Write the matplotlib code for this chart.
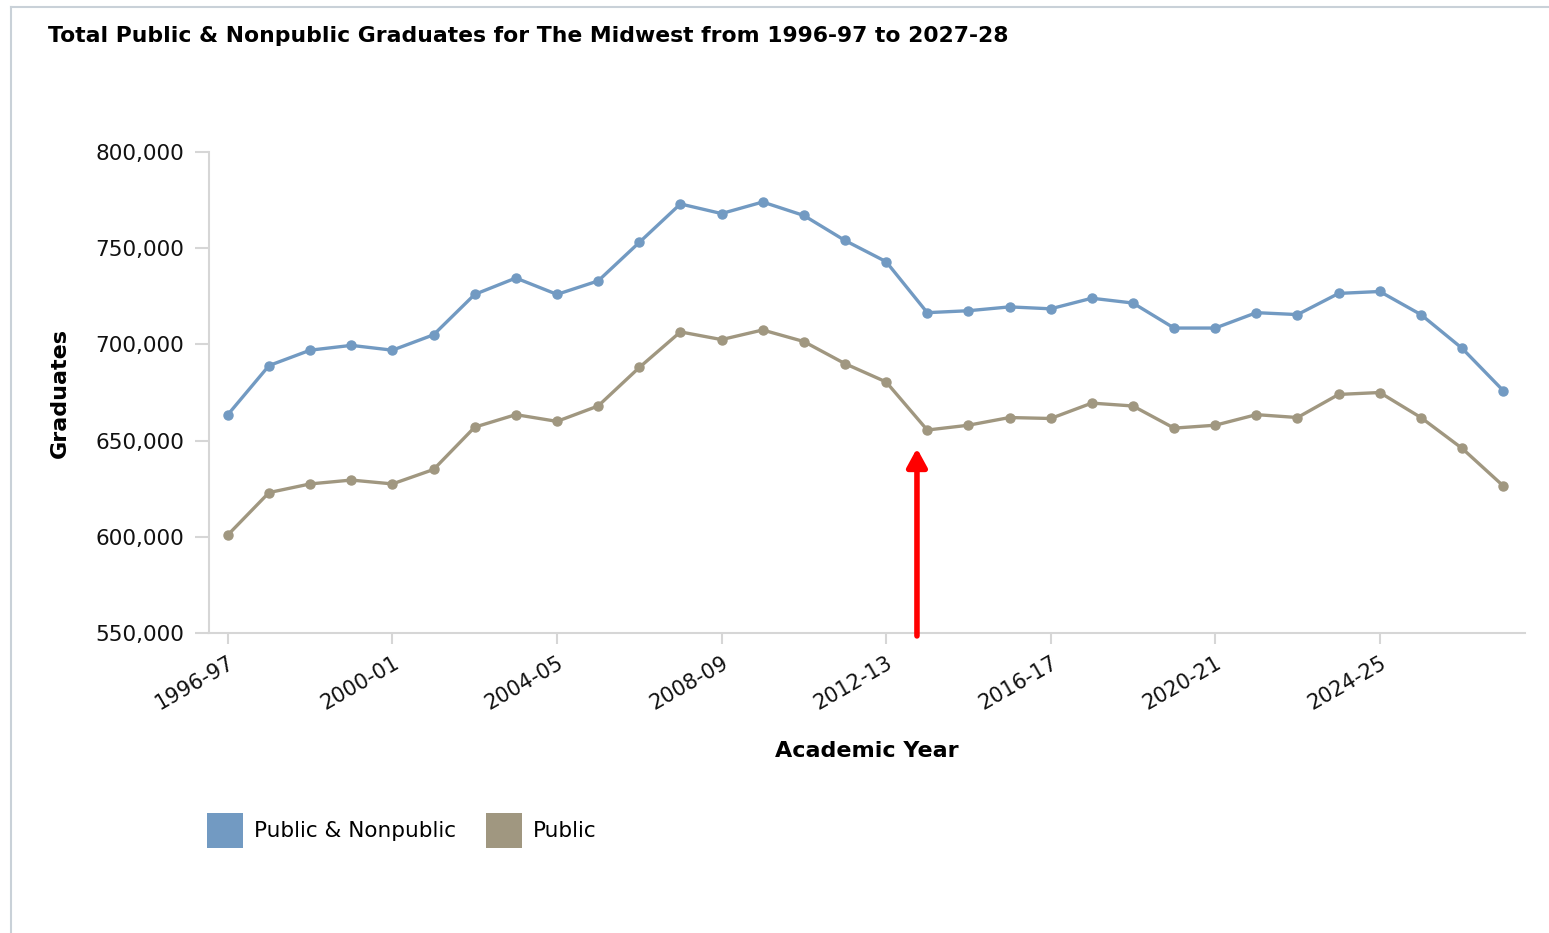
import matplotlib
matplotlib.use("Agg")
import matplotlib.pyplot as plt
from matplotlib.patches import Patch
from matplotlib.lines import Line2D
import numpy as np

# academic years 1996-97 .. 2027-28
years = [f"{y}-{str(y + 1)[-2:]}" for y in range(1996, 2028)]
tick_years = ["1996-97", "2000-01", "2004-05", "2008-09",
              "2012-13", "2016-17", "2020-21", "2024-25"]

# values (graduates)
public_nonpublic = [663500, 689000, 697000, 699500, 697000, 705000, 726000, 734500,
                    726000, 733000, 753000, 773000, 768000, 774000, 767000, 754000,
                    743000, 716500, 717500, 719500, 718500, 724000, 721500, 708500,
                    708500, 716500, 715500, 726500, 727500, 715500, 698000, 676000]
public = [601000, 623000, 627500, 629500, 627500, 635000, 657000, 663500,
          660000, 668000, 688000, 706500, 702500, 707500, 701500, 690000,
          680500, 655500, 658000, 662000, 661500, 669500, 668000, 656500,
          658000, 663500, 662000, 674000, 675000, 662000, 646000, 626500]

arrow_year = 16.75     # index position of the red arrow
arrow_top = 646000

blue = '#729ac2'
tan = '#a09780'
grey = '#d6d6d6'

fig = plt.figure(figsize=(15.49, 9.33), dpi=100)
ax = fig.add_axes([0.1349, 0.3215, 0.8496, 0.5156])

x = np.arange(len(years))
ax.plot(x, public_nonpublic, color=blue, lw=2.4, marker='o', ms=6.5,
        solid_capstyle='round', zorder=3)
ax.plot(x, public, color=tan, lw=2.4, marker='o', ms=6.5,
        solid_capstyle='round', zorder=3)

ax.set_xlim(-0.46, 31.53)
ax.set_ylim(550000, 800000)
ax.set_yticks(np.arange(550000, 800001, 50000))
ax.yaxis.set_major_formatter(matplotlib.ticker.StrMethodFormatter('{x:,.0f}'))
ax.set_xticks([years.index(t) for t in tick_years])
ax.set_xticklabels(tick_years, rotation=30, ha='right', rotation_mode='anchor')

for s in ['top', 'right']:
    ax.spines[s].set_visible(False)
for s in ['left', 'bottom']:
    ax.spines[s].set_color(grey)
    ax.spines[s].set_linewidth(1.5)
ax.tick_params(axis='y', length=10, width=1.5, color=grey, pad=8,
               labelsize=15.5, labelcolor='#111111')
ax.tick_params(axis='x', length=8, width=1.5, color=grey, pad=6,
               labelsize=15, labelcolor='#111111')

ax.set_ylabel('Graduates', fontsize=16, fontweight='bold', labelpad=18)
ax.set_xlabel('Academic Year', fontsize=16, fontweight='bold', labelpad=20)

fig.text(0.031, 0.961, 'Total Public & Nonpublic Graduates for The Midwest from 1996-97 to 2027-28',
         fontsize=15.75, fontweight='bold', ha='left', va='center')

# red arrow annotation
ax.annotate('', xy=(arrow_year, arrow_top), xytext=(arrow_year, 548500),
            arrowprops=dict(arrowstyle='-|>,head_length=1.1,head_width=0.6',
                            color='#ff0000', lw=4, shrinkA=0, shrinkB=0),
            annotation_clip=False, zorder=5)

handles = [Patch(facecolor=blue, edgecolor='none', label='Public & Nonpublic'),
           Patch(facecolor=tan, edgecolor='none', label='Public')]
fig.legend(handles=handles, loc='center left', bbox_to_anchor=(0.121, 0.110),
           ncol=2, frameon=False, fontsize=15.5, handlelength=1.68, handleheight=2.1,
           handletextpad=0.5, columnspacing=1.4)

# page frame lines
fig.add_artist(Line2D([0.0071, 1.0], [0.9925, 0.9925], color='#c9d1d8', lw=1.5))
fig.add_artist(Line2D([0.0071, 0.0071], [0.0, 0.9925], color='#c9d1d8', lw=1.5))

fig.savefig('out.png', dpi=100)
